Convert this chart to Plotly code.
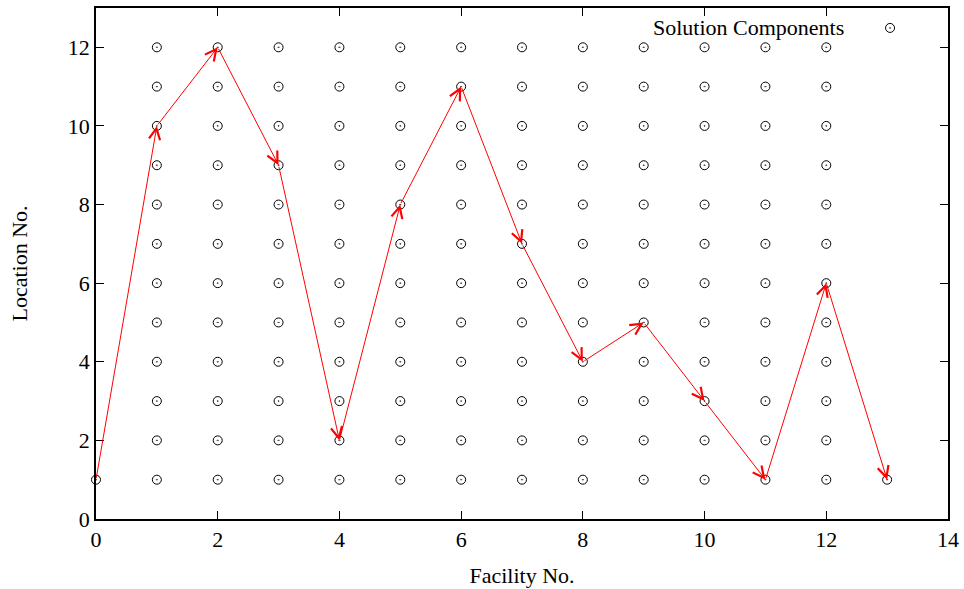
import plotly.graph_objects as go

# grid of candidate solution components
facilities = [1, 2, 3, 4, 5, 6, 7, 8, 9, 10, 11, 12]
locations = [1, 2, 3, 4, 5, 6, 7, 8, 9, 10, 11, 12]
start_point = (0, 1)
end_point = (13, 1)

# chosen path (facility -> location)
path_facility = [0, 1, 2, 3, 4, 5, 6, 7, 8, 9, 10, 11, 12, 13]
path_location = [1, 10, 12, 9, 2, 8, 11, 7, 4, 5, 3, 1, 6, 1]

x_ticks = [0, 2, 4, 6, 8, 10, 12, 14]
y_ticks = [0, 2, 4, 6, 8, 10, 12]

FONT = "Liberation Serif"

gx = [start_point[0]]
gy = [start_point[1]]
for f in facilities:
    for l in locations:
        gx.append(f)
        gy.append(l)
gx.append(end_point[0])
gy.append(end_point[1])

fig = go.Figure()

marker_style = dict(symbol="circle-open-dot", size=9, color="black", line=dict(width=1, color="black"))

fig.add_trace(go.Scatter(x=gx, y=gy, mode="markers", marker=marker_style,
                         showlegend=False, hoverinfo="x+y", cliponaxis=False))

# legend sample marker on an overlay axis (gnuplot-style key: text then sample)
fig.add_trace(go.Scatter(x=[0.932], y=[0.961], mode="markers", marker=marker_style,
                         xaxis="x2", yaxis="y2", showlegend=False, hoverinfo="skip"))

annotations = []
for i in range(len(path_facility) - 1):
    annotations.append(dict(
        x=path_facility[i + 1], y=path_location[i + 1],
        ax=path_facility[i], ay=path_location[i],
        xref="x", yref="y", axref="x", ayref="y",
        text="", showarrow=True, arrowhead=5, arrowsize=2.2,
        arrowwidth=1, arrowcolor="red", standoff=0, startstandoff=0,
    ))

annotations.append(dict(
    x=0.880, y=0.961, xref="paper", yref="paper", text="Solution Components",
    showarrow=False, xanchor="right", yanchor="middle",
    font=dict(family=FONT, size=22, color="black"),
))

fig.update_layout(
    width=964, height=589,
    margin=dict(l=96, r=16, t=8, b=70, autoexpand=False),
    paper_bgcolor="white", plot_bgcolor="white",
    font=dict(family=FONT, size=22, color="black"),
    showlegend=False,
    annotations=annotations,
    xaxis=dict(
        range=[0, 14], tickvals=x_ticks, ticktext=[str(v) for v in x_ticks],
        showgrid=False, zeroline=False, showline=True, linecolor="black", linewidth=1.5,
        mirror="ticks", ticks="inside", ticklen=8, tickwidth=1.2, tickcolor="black",
        automargin=False, ticklabeloverflow="allow",
        title=dict(text="Facility No.", font=dict(family=FONT, size=22), standoff=16),
        tickfont=dict(family=FONT, size=22),
    ),
    yaxis=dict(
        range=[0, 13], tickvals=y_ticks, ticktext=[str(v) for v in y_ticks],
        showgrid=False, zeroline=False, showline=True, linecolor="black", linewidth=1.5,
        mirror="ticks", ticks="inside", ticklen=8, tickwidth=1.2, tickcolor="black",
        automargin=False,
        title=dict(text="Location No.", font=dict(family=FONT, size=22), standoff=34),
        tickfont=dict(family=FONT, size=22),
    ),
    xaxis2=dict(range=[0, 1], overlaying="x", visible=False, domain=[0, 1]),
    yaxis2=dict(range=[0, 1], overlaying="y", visible=False, domain=[0, 1]),
)

fig.write_html("out.html", config={"displayModeBar": False},
               post_script="document.body.style.margin='0';document.body.style.overflow='hidden';")
